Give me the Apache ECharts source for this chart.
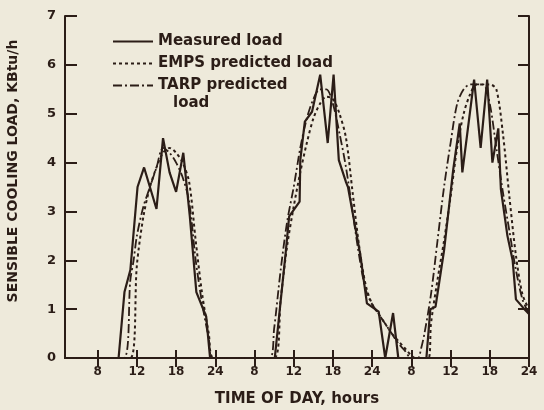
<!DOCTYPE html>
<html>
<head>
    <meta charset="utf-8">
    <title></title>
    <script src="https://cdn.jsdelivr.net/npm/echarts@6.0.0/dist/echarts.min.js"></script>
</head>
<body style="margin:0;background:#eeeadb;">
<div id="main" style="width:544px;height:410px;"></div>
<script type="text/javascript">
    // tick positions (hours from start) and the labels printed under them
    var tickHours = [6, 12, 18, 24, 30, 36, 42, 48, 54, 60, 66, 72];
    var tickLabels = ['8', '12', '18', '24', '8', '12', '18', '24', '8', '12', '18', '24'];

    // measured load
    var measHours = [1, 9.2, 10.1, 11.0, 12.1, 13.1, 15.0, 16.0, 17.0, 18.0, 19.1, 20.1, 21.1, 22.6, 23.2,
        33.1, 34.8, 35.3, 36.9, 37.0, 37.7, 38.8, 40.05, 41.2, 42.1, 42.9, 44.0, 44.3, 46.2, 47.2, 49.0, 50.0, 51.2, 52.0,
        56.3, 56.9, 57.7, 59.0, 60.4, 61.4, 61.8, 63.6, 64.6, 65.6, 66.4, 67.3, 67.7, 68.7, 69.5, 70.0, 71.3, 72];
    var measLoad = [0, 0, 1.35, 1.8, 3.5, 3.9, 3.05, 4.5, 3.8, 3.4, 4.2, 2.9, 1.35, 0.85, 0,
        0, 2.2, 2.9, 3.2, 4.05, 4.84, 5.04, 5.8, 4.4, 5.8, 4.05, 3.6, 3.5, 2.1, 1.12, 0.95, 0, 0.92, 0,
        0, 1.0, 1.05, 2.2, 3.85, 4.8, 3.8, 5.7, 4.3, 5.7, 4.0, 4.7, 3.45, 2.5, 2.0, 1.2, 1.0, 0.9];

    // EMPS predicted load
    var empsHours = [1, 11.0, 12, 13, 14, 15, 16, 17, 18, 19, 20, 21, 22, 23, 23.8,
        33, 34, 35, 36, 37, 38, 39, 40, 41, 42, 43, 44, 45, 46, 47, 48, 49, 50, 51, 52, 53, 54, 54.6,
        56.6, 57, 58, 59, 60, 61, 62, 63, 64, 65, 66, 67, 68, 69, 70, 71, 72];
    var empsLoad = [0, 0, 1.9, 2.9, 3.5, 3.9, 4.2, 4.3, 4.2, 4.0, 3.6, 2.4, 1.3, 0.5, 0,
        0, 1.2, 2.3, 3.1, 3.8, 4.4, 4.9, 5.2, 5.35, 5.3, 5.0, 4.5, 3.4, 2.3, 1.5, 1.1, 0.9, 0.7, 0.5, 0.35, 0.2, 0.05, 0,
        0, 0.7, 1.6, 2.4, 3.3, 4.3, 5.0, 5.4, 5.6, 5.6, 5.6, 5.5, 4.6, 3.3, 2.1, 1.3, 1.0];

    // TARP predicted load
    var tarpHours = [1, 10.0, 11, 11.5, 12, 13, 14, 15, 16, 17, 18, 19, 20, 21, 22, 23, 23.6,
        32.3, 33, 34, 35, 36, 37, 38, 39, 40, 41, 42, 43, 44, 45, 46, 47, 48, 49, 50, 51, 52, 53, 54, 55,
        55.5, 56, 57, 58, 59, 60, 61, 62, 63, 64, 65, 66, 67, 68, 69, 70, 71, 72];
    var tarpLoad = [0, 0, 1.6, 2.0, 2.5, 3.1, 3.5, 3.9, 4.3, 4.2, 4.0, 3.7, 3.2, 2.0, 1.1, 0.4, 0,
        0, 0.6, 1.8, 2.8, 3.5, 4.3, 4.9, 5.3, 5.5, 5.5, 5.2, 4.6, 3.9, 3.0, 2.1, 1.4, 1.1, 0.9, 0.7, 0.5, 0.3, 0.15, 0, 0,
        0.2, 0.5, 1.3, 2.4, 3.5, 4.4, 5.2, 5.5, 5.6, 5.6, 5.6, 5.2, 4.3, 3.4, 2.6, 1.8, 1.2, 0.9];

    var ink = '#2b1d17';
    var font = 'DejaVu Sans';

    function pairs(xs, ys) {
        return xs.map(function (x, i) { return [x, ys[i]]; });
    }

    var myChart = echarts.init(document.getElementById('main'));

    myChart.setOption({
        backgroundColor: '#eeeadb',
        animation: false,
        // fixed plot box, don't let the axis names shrink it
        grid: { left: 65, right: 15, top: 16, bottom: 52, outerBoundsMode: 'none' },
        legend: {
            left: 112,
            top: 34,
            padding: 0,
            orient: 'vertical',
            itemWidth: 40,
            itemHeight: 14,
            itemGap: 7,
            itemStyle: { opacity: 0 },
            textStyle: { fontFamily: font, fontWeight: 'bold', fontSize: 15, color: ink },
            data: ['Measured load', 'EMPS predicted load', 'TARP predicted']
        },
        // second line of the TARP legend entry
        graphic: [{
            type: 'text',
            left: 173,
            top: 96,
            style: { text: 'load', font: 'bold 15px "DejaVu Sans"', fill: ink }
        }],
        xAxis: [
            {
                type: 'value',
                min: 1,
                max: 72,
                name: 'TIME OF DAY, hours',
                nameLocation: 'middle',
                nameGap: 34,
                nameTextStyle: { fontFamily: font, fontWeight: 'bold', fontSize: 15, color: ink },
                axisLine: { lineStyle: { color: ink, width: 2 } },
                axisTick: { inside: true, length: 8, lineStyle: { width: 2 }, customValues: tickHours },
                axisLabel: {
                    customValues: tickHours,
                    margin: 8,
                    fontFamily: font, fontWeight: 'bold', fontSize: 12, color: ink,
                    formatter: function (v) { return tickLabels[tickHours.indexOf(v)]; }
                },
                splitLine: { show: false }
            },
            {
                type: 'value',
                position: 'top',
                min: 1,
                max: 72,
                axisLine: { lineStyle: { color: ink, width: 2 } },
                axisTick: { inside: true, length: 9, lineStyle: { width: 2 }, customValues: tickHours },
                axisLabel: { show: false },
                splitLine: { show: false }
            }
        ],
        yAxis: [
            {
                type: 'value',
                min: 0,
                max: 7,
                interval: 1,
                name: 'SENSIBLE COOLING LOAD, KBtu/h',
                nameLocation: 'middle',
                nameGap: 45,
                nameTextStyle: { fontFamily: font, fontWeight: 'bold', fontSize: 14, color: ink, padding: [0, 0, 0, 32] },
                axisLine: { show: true, lineStyle: { color: ink, width: 2 } },
                axisTick: { show: true, inside: true, length: 12, lineStyle: { width: 2 } },
                axisLabel: { margin: 9, fontFamily: font, fontWeight: 'bold', fontSize: 13, color: ink },
                splitLine: { show: false }
            },
            {
                type: 'value',
                position: 'right',
                min: 0,
                max: 7,
                interval: 1,
                axisLine: { show: true, lineStyle: { color: ink, width: 2 } },
                axisTick: { show: true, inside: true, length: 11, lineStyle: { width: 2 } },
                axisLabel: { show: false },
                splitLine: { show: false }
            }
        ],
        series: [
            {
                name: 'Measured load',
                type: 'line',
                symbol: 'none',
                lineStyle: { color: ink, width: 2.2 },
                itemStyle: { color: ink },
                data: pairs(measHours, measLoad)
            },
            {
                name: 'EMPS predicted load',
                type: 'line',
                symbol: 'none',
                smooth: 0.3,
                lineStyle: { color: ink, width: 2, type: [3, 3] },
                itemStyle: { color: ink },
                data: pairs(empsHours, empsLoad)
            },
            {
                name: 'TARP predicted',
                type: 'line',
                symbol: 'none',
                smooth: 0.3,
                lineStyle: { color: ink, width: 1.8, type: [9, 3, 2, 3] },
                itemStyle: { color: ink },
                data: pairs(tarpHours, tarpLoad)
            }
        ]
    });
</script>
</body>
</html>
